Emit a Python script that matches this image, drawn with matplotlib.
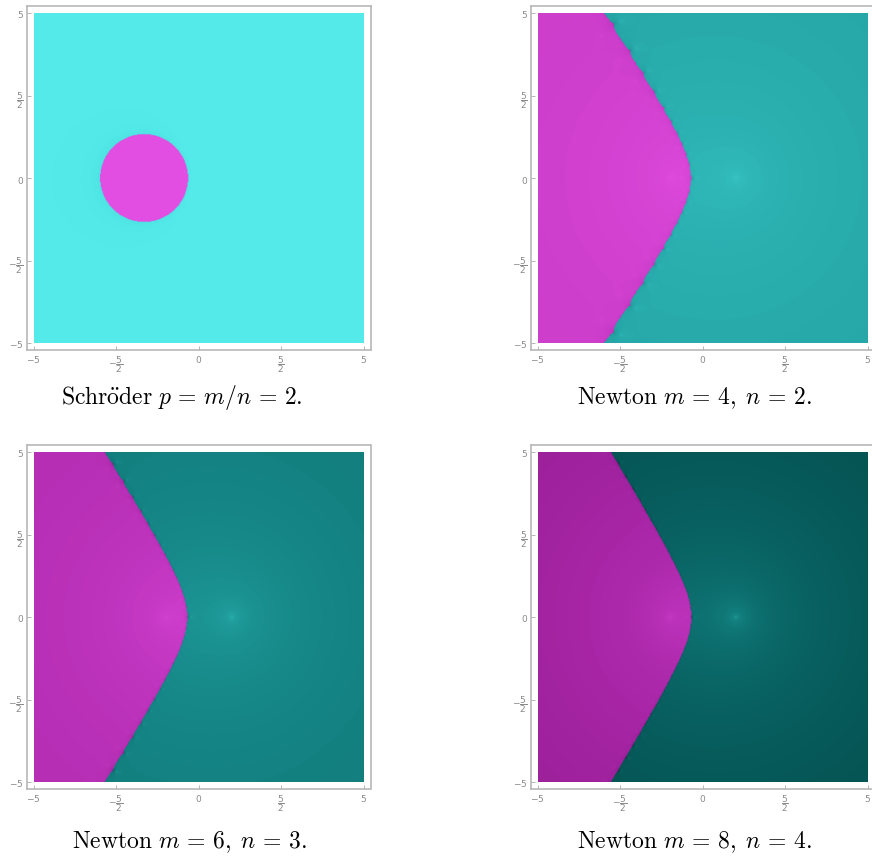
import numpy as np
import matplotlib.pyplot as plt
from matplotlib.colors import hsv_to_rgb

plt.rcParams['mathtext.fontset'] = 'cm'

# roots of f(z) = (z - 1)^m (z + 1)^n
roots = [1.0, -1.0]
root_hues = [0.5, 0.835]          # teal for z = 1, magenta for z = -1
root_vmax = [0.92, 0.89]

methods = ['schroder', 'newton', 'newton', 'newton']
m_vals = [2, 4, 6, 8]
n_vals = [1, 2, 3, 4]
captions = [r'$\mathrm{Schr\ddot{o}der}\ p \,=\, m/n \,=\, 2.$',
            r'$\mathrm{Newton}\ m \,=\, 4,\; n \,=\, 2.$',
            r'$\mathrm{Newton}\ m \,=\, 6,\; n \,=\, 3.$',
            r'$\mathrm{Newton}\ m \,=\, 8,\; n \,=\, 4.$']

tick_vals = [-5, -2.5, 0, 2.5, 5]
tick_labels = ['$-5$', r'$-\dfrac{5}{2}$', '$0$', r'$\dfrac{5}{2}$', '$5$']

N = 400
TOL = 1e-6
MAXIT = 250


def basins(method, m, n):
    x = np.linspace(-5, 5, N)
    z = x[None, :] + 1j * x[::-1, None]
    k = np.full(z.shape, MAXIT)
    which = np.full(z.shape, -1)
    active = np.ones(z.shape, bool)
    with np.errstate(all='ignore'):
        for it in range(MAXIT):
            za = z[active]
            g = m / (za - 1) + n / (za + 1)
            if method == 'schroder':
                gp = -m / (za - 1) ** 2 - n / (za + 1) ** 2
                za = za + g / gp
            else:
                za = za - 1 / g
            z[active] = za
            for j, r in enumerate(roots):
                hit = active & (np.abs(z - r) < TOL)
                which[hit] = j
                k[hit] = it + 1
                active &= ~hit
            if not active.any():
                break
    left = which < 0
    which[left] = np.where(np.abs(z[left] - 1) < np.abs(z[left] + 1), 0, 1)
    return which, k


def colour(which, k):
    v = np.minimum(0.95 - 0.005 * k, np.take(root_vmax, which))
    v = np.clip(v, 0.15, 1)
    s = np.clip(1.1 - 0.5 * v, 0, 1)
    h = np.take(root_hues, which)
    return hsv_to_rgb(np.dstack([h, s, v]))


W, H = 872, 862
fig = plt.figure(figsize=(W / 100, H / 100), dpi=100)

frames = [(26, 7), (530, 7), (26, 446), (530, 446)]   # top-left corner of each frame, px
cap_pos = [(182, 398), (694, 398), (189, 842), (694, 842)]
pad = 5 + 7 / 33

for i in range(4):
    fx, fy = frames[i]
    ax = fig.add_axes([fx / W, 1 - (fy + 344) / H, 345 / W, 344 / H])
    which, k = basins(methods[i], m_vals[i], n_vals[i])
    ax.imshow(colour(which, k), extent=[-5, 5, -5, 5], origin='upper',
              interpolation='bilinear')
    ax.set_xlim(-pad, pad)
    ax.set_ylim(-pad, pad)
    ax.set_xticks(tick_vals)
    ax.set_xticklabels(tick_labels)
    ax.set_yticks(tick_vals)
    ax.set_yticklabels(tick_labels)
    ax.tick_params(direction='in', length=3, width=0.6, colors='#aaaaaa',
                   labelcolor='#8a8a8a', labelsize=6.5, pad=2)
    for lab in ax.get_xticklabels() + ax.get_yticklabels():
        lab.set_math_fontfamily('dejavusans')
    for sp in ax.spines.values():
        sp.set_color('#b8b8b8')
        sp.set_linewidth(1.2)
    cx, cy = cap_pos[i]
    fig.text(cx / W, 1 - cy / H, captions[i], ha='center', va='center',
             fontsize=17)

fig.savefig('out.png', dpi=100)
